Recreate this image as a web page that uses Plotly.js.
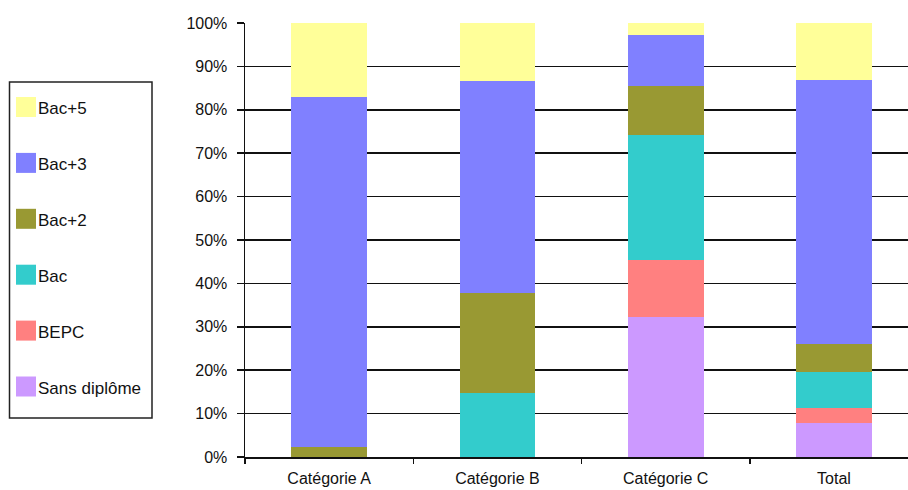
<!DOCTYPE html>
<html>
<head>
<meta charset="utf-8">
<script src="https://cdn.plot.ly/plotly-3.0.1.min.js"></script>
<style>
html,body{margin:0;padding:0;background:#fff;overflow:hidden;}
#chart{width:908px;height:490px;}
</style>
</head>
<body>
<div id="chart"></div>
<script>
// ---- data ----
const categories = ["Catégorie A", "Catégorie B", "Catégorie C", "Total"];
const seriesNames = ["Sans diplôme", "BEPC", "Bac", "Bac+2", "Bac+3", "Bac+5"];
const sansDiplome = [0, 0, 32.3, 7.8];
const bepc        = [0, 0.1, 13.2, 3.4];
const bac         = [0.1, 14.6, 28.7, 8.5];
const bac2        = [2.3, 23.0, 11.3, 6.3];
const bac3        = [80.6, 48.9, 11.7, 60.9];
const bac5        = [17.0, 13.4, 2.8, 13.1];
const seriesColors = ["#CC99FF", "#FF8080", "#33CCCC", "#999933", "#8080FF", "#FFFF99"];
const yTickVals = [0, 10, 20, 30, 40, 50, 60, 70, 80, 90, 100];

const seriesValues = [sansDiplome, bepc, bac, bac2, bac3, bac5];

const traces = seriesValues.map((vals, i) => ({
  type: "bar",
  name: seriesNames[i],
  x: categories,
  y: vals,
  width: 0.45,
  marker: { color: seriesColors[i], line: { width: 0 } },
  showlegend: false,
  hoverinfo: "x+y+name"
}));

// ---- custom legend (pixel -> paper) ----
const L = 245, R = 908, T = 23, B = 457;
const px = v => (v - L) / (R - L);
const py = v => (B - v) / (B - T);

const shapes = [{
  type: "rect", xref: "paper", yref: "paper",
  x0: px(9.5), x1: px(152), y0: py(82), y1: py(418),
  line: { color: "#222", width: 1.5 }, fillcolor: "rgba(0,0,0,0)"
}];
const annotations = [];
const legendTop = 97, legendStep = 55.9;
for (let k = 0; k < seriesNames.length; k++) {
  const i = seriesNames.length - 1 - k;
  const top = legendTop + k * legendStep;
  shapes.push({
    type: "rect", xref: "paper", yref: "paper",
    x0: px(16), x1: px(36), y0: py(top), y1: py(top + 20),
    line: { width: 0 }, fillcolor: seriesColors[i]
  });
  annotations.push({
    xref: "paper", yref: "paper",
    x: px(36), y: py(top + 11.5),
    xanchor: "left", yanchor: "middle",
    text: seriesNames[i], showarrow: false,
    font: { family: "Liberation Sans, Arial, sans-serif", size: 17, color: "#111" }
  });
}

const layout = {
  width: 908, height: 490,
  margin: { l: 245, r: 0, t: 23, b: 33 },
  paper_bgcolor: "#fff", plot_bgcolor: "#fff",
  barmode: "stack",
  barnorm: "percent",
  bargap: 0.55,
  font: { family: "Liberation Sans, Arial, sans-serif", size: 16, color: "#111" },
  xaxis: {
    type: "category",
    range: [-0.5, 3.44],
    tickson: "boundaries",
    ticks: "outside", ticklen: 5, tickwidth: 1.5, tickcolor: "#111",
    ticklabelstandoff: 6,
    showline: true, linecolor: "#111", linewidth: 1.5,
    showgrid: false, zeroline: false,
    tickfont: { size: 16 },
    fixedrange: true
  },
  yaxis: {
    range: [0, 100],
    tickvals: yTickVals,
    ticktext: yTickVals.map(v => v + "%"),
    ticks: "outside", ticklen: 7, tickwidth: 1.5, tickcolor: "#111",
    ticklabelstandoff: 6,
    showline: true, linecolor: "#111", linewidth: 1.5,
    showgrid: true, gridcolor: "#111", gridwidth: 1.5,
    zeroline: false,
    tickfont: { size: 16 },
    fixedrange: true
  },
  shapes: shapes,
  annotations: annotations,
  showlegend: false
};

Plotly.newPlot("chart", traces, layout, { displayModeBar: false, staticPlot: true });
</script>
</body>
</html>
